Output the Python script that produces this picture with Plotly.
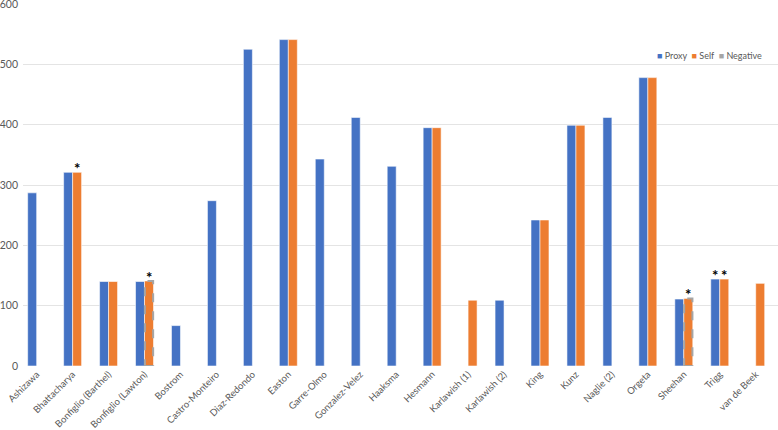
import plotly.graph_objects as go

studies = ["Ashizawa", "Bhattacharya", "Bonfiglio (Barthel)", "Bonfiglio (Lawton)", "Bostrom",
           "Castro-Monteiro", "Diaz-Redondo", "Easton", "Garre-Olmo", "Gonzalez-Velez", "Haaksma",
           "Hesmann", "Karlawish (1)", "Karlawish (2)", "King", "Kunz", "Naglie (2)", "Orgeta",
           "Sheehan", "Trigg", "van de Beek"]
proxy = [287, 321, 140, 140, 67, 274, 525, 541, 343, 412, 331, 395, None, 109, 242, 399, 412, 478, 111, 144, None]
self_ = [None, 321, 140, 141, None, None, None, 541, None, None, None, 395, 109, None, 242, 399, None, 478, 112, 144, 137]
negative = [None, None, None, 141, None, None, None, None, None, None, None, None, None, None, None, None, None, None, 112, None, None]
proxy_marks = ["", "", "", "", "", "", "", "", "", "", "", "", "", "", "", "", "", "", "", "*", ""]
self_marks = ["", "*", "", "*", "", "", "", "", "", "", "", "", "", "", "", "", "", "", "*", "*", ""]
y_ticks = [0, 100, 200, 300, 400, 500, 600]

BLUE = "#4472C4"
ORANGE = "#ED7D31"
GREY = "#A5A5A5"
TXT = "#595959"
FONT = "Lato"
BARGAP = 0.5
bar_w = (1 - BARGAP) / 2

fig = go.Figure()
fig.add_trace(go.Bar(
    x=studies, y=proxy, name="Proxy", offsetgroup="p",
    marker=dict(color=BLUE, line=dict(color="rgba(255,255,255,0.7)", width=0.8))))
fig.add_trace(go.Bar(
    x=studies, y=self_, name="Self", offsetgroup="s",
    marker=dict(color=ORANGE, line=dict(color="rgba(255,255,255,0.7)", width=0.8))))

# Negative series: dashed grey outline at the Self slot
for i, v in enumerate(negative):
    if v is None:
        continue
    fig.add_shape(type="rect", xref="x", yref="y", x0=i + 0.01, x1=i + bar_w - 0.01, y0=0, y1=v,
                  line=dict(color=GREY, width=2, dash="dash"), fillcolor="rgba(0,0,0,0)")

# significance asterisks above bars
for series, marks, side in ((proxy, proxy_marks, -1), (self_, self_marks, 1)):
    for i, (v, m) in enumerate(zip(series, marks)):
        if m and v is not None:
            top = max(v, negative[i] or 0) if side == 1 else v
            fig.add_annotation(xref="x", yref="y", x=i + side * bar_w / 2, y=top, text=f"<b>{m}</b>",
                               showarrow=False, yanchor="bottom", yshift=-7,
                               font=dict(family=FONT, size=15, color="black"))

legend_text = (f'<span style="color:{BLUE}">■</span> Proxy  '
               f'<span style="color:{ORANGE}">■</span> Self  '
               f'<span style="color:{GREY}">■</span> Negative')
fig.add_annotation(xref="paper", yref="paper", x=0.982, y=0.859, xanchor="right", yanchor="middle",
                   text=legend_text, showarrow=False, font=dict(family=FONT, size=9, color=TXT))

fig.update_layout(
    width=778, height=430,
    margin=dict(l=23, r=0, t=4, b=64),
    paper_bgcolor="white", plot_bgcolor="white",
    barmode="group", bargap=BARGAP, bargroupgap=0,
    showlegend=False,
    font=dict(family=FONT, color=TXT),
)
fig.update_xaxes(type="category", range=[-0.38, 20.62], tickangle=-45, automargin=False,
                 tickfont=dict(family=FONT, size=9.5, color=TXT), showgrid=False, showline=False,
                 ticks="", ticklabeloverflow="allow")
fig.update_yaxes(range=[0, 600], tickvals=y_ticks, automargin=False, gridcolor="#E4E4E4", gridwidth=1,
                 zeroline=False, showline=False, ticks="", ticklabelstandoff=4, ticklabeloverflow="allow",
                 tickfont=dict(family=FONT, size=10.5, color=TXT))

fig.write_html("out.html", config={"displayModeBar": False},
               post_script="document.body.style.margin='0';")
